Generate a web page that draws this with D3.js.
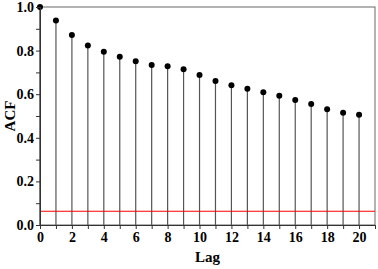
<!DOCTYPE html>
<html>
<head>
<meta charset="utf-8">
<script src="https://cdn.jsdelivr.net/npm/d3@7"></script>
<style>
  body { margin: 0; background: #fff; }
  svg text { font-family: "Liberation Serif", "Times New Roman", serif !important; font-weight: bold; }
</style>
</head>
<body>
<div id="chart"></div>
<script>
var lags = d3.range(0, 21);
var acf = [1.0, 0.938, 0.872, 0.823, 0.795, 0.772, 0.751, 0.734, 0.728, 0.714,
           0.688, 0.661, 0.641, 0.625, 0.609, 0.593, 0.573, 0.555, 0.531, 0.515, 0.506];
var bound = 0.063;
var xTicks = [0, 2, 4, 6, 8, 10, 12, 14, 16, 18, 20];
var yTicks = [0.0, 0.2, 0.4, 0.6, 0.8, 1.0];

function init() {
    var w = 378, h = 269;
    var m = {left: 40, top: 7, right: 3, bottom: 44};

    var xScale = d3.scaleLinear().domain([0, 21]).range([m.left, w - m.right]);
    var yScale = d3.scaleLinear().domain([0, 1]).range([h - m.bottom, m.top]);

    var svg = d3.select("#chart").append("svg")
                .attr("width", w)
                .attr("height", h);

    // frame
    svg.append("rect")
       .attr("x", xScale(0)).attr("y", yScale(1))
       .attr("width", xScale(21) - xScale(0))
       .attr("height", yScale(0) - yScale(1))
       .attr("fill", "none").attr("stroke", "#666").attr("stroke-width", 1);

    // stems
    svg.selectAll("line.stem")
       .data(lags)
       .enter().append("line")
       .attr("class", "stem")
       .attr("x1", function(d) { return xScale(d); })
       .attr("x2", function(d) { return xScale(d); })
       .attr("y1", yScale(0))
       .attr("y2", function(d) { return yScale(acf[d]); })
       .attr("stroke", "#555").attr("stroke-width", 1.2);

    // significance line
    svg.append("line")
       .attr("x1", xScale(0)).attr("x2", xScale(21))
       .attr("y1", yScale(bound)).attr("y2", yScale(bound))
       .attr("stroke", "#ff0000").attr("stroke-width", 1.2);

    svg.selectAll("circle")
       .data(lags)
       .enter().append("circle")
       .attr("cx", function(d) { return xScale(d); })
       .attr("cy", function(d) { return yScale(acf[d]); })
       .attr("r", 3)
       .attr("fill", "#000");

    // axes
    var xAxis = d3.axisBottom(xScale).tickValues(xTicks).tickSize(4).tickPadding(3)
                  .tickFormat(d3.format("d"));
    var xMinor = d3.axisBottom(xScale).tickValues(d3.range(1, 21, 2)).tickSize(4).tickFormat("");
    var yAxis = d3.axisLeft(yScale).tickValues(yTicks).tickSize(4).tickPadding(2)
                  .tickFormat(d3.format(".1f"));
    var yMinor = d3.axisLeft(yScale).tickValues([0.1, 0.3, 0.5, 0.7, 0.9]).tickSize(4).tickFormat("");

    svg.append("g").attr("transform", "translate(0," + yScale(0) + ")").call(xAxis)
       .attr("font-family", "Liberation Serif").attr("font-size", 14);
    svg.append("g").attr("transform", "translate(0," + yScale(0) + ")").call(xMinor);
    svg.append("g").attr("transform", "translate(" + xScale(0) + ",0)").call(yAxis)
       .attr("font-family", "Liberation Serif").attr("font-size", 14);
    svg.append("g").attr("transform", "translate(" + xScale(0) + ",0)").call(yMinor);

    svg.selectAll(".domain").attr("stroke", "#333");
    svg.selectAll(".tick line").attr("stroke", "#333");
    svg.selectAll(".tick text").attr("fill", "#000");

    svg.append("text")
       .attr("x", (xScale(0) + xScale(21)) / 2)
       .attr("y", 262)
       .attr("text-anchor", "middle")
       .style("font-size", "15px")
       .text("Lag");

    svg.append("text")
       .attr("transform", "translate(15," + ((yScale(0) + yScale(1)) / 2) + ") rotate(-90)")
       .attr("text-anchor", "middle")
       .style("font-size", "15px")
       .text("ACF");
}

window.onload = init;
</script>
</body>
</html>
